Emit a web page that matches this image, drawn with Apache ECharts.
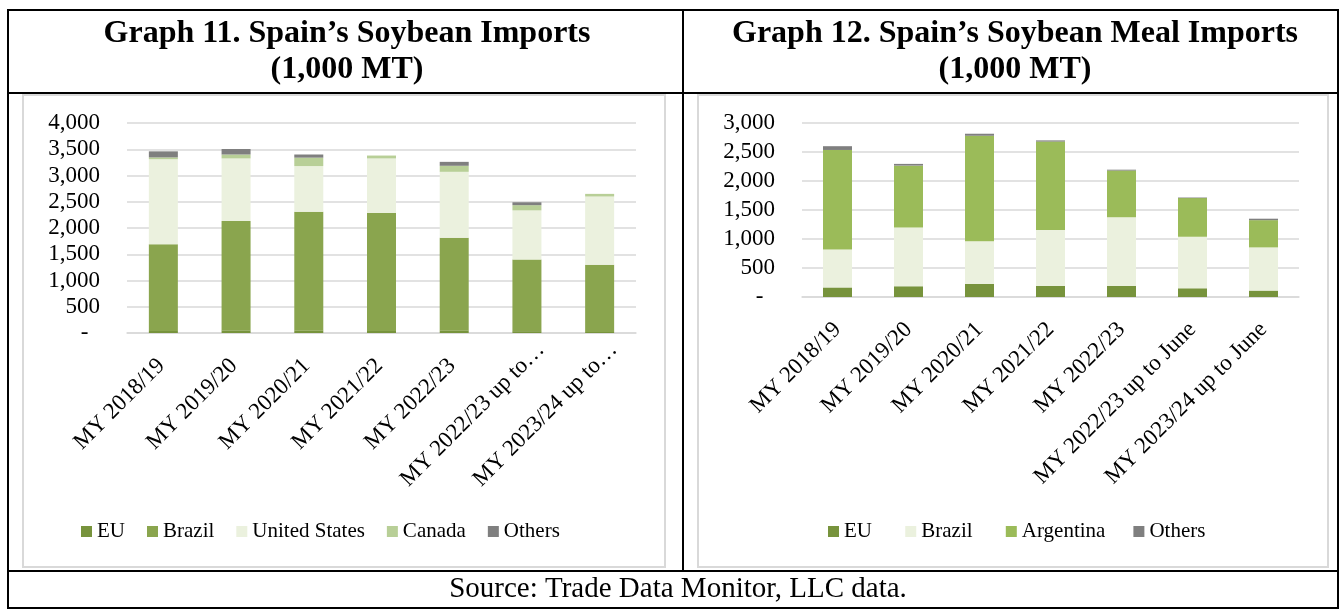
<!DOCTYPE html>
<html>
<head>
<meta charset="utf-8">
<script src="https://cdn.jsdelivr.net/npm/echarts@6/dist/echarts.min.js"></script>
<style>
  html, body { margin: 0; padding: 0; background: #fff; }
  #chart { width: 1339px; height: 609px; }
</style>
</head>
<body>
<div id="chart"></div>
<script>
// categories (marketing years)
var categories = ['MY 2018/19', 'MY 2019/20', 'MY 2020/21', 'MY 2021/22', 'MY 2022/23',
                  'MY 2022/23 up to June', 'MY 2023/24 up to June'];

// Graph 11 - soybean imports, 1,000 MT
var beanEU = [40, 50, 45, 40, 45, 35, 20];
var beanBrazil = [1650, 2085, 2265, 2245, 1770, 1365, 1280];
var beanUS = [1620, 1190, 870, 1040, 1255, 935, 1300];
var beanCanada = [35, 75, 160, 55, 115, 100, 50];
var beanOthers = [115, 105, 60, 0, 75, 55, 0];

// Graph 12 - soybean meal imports, 1,000 MT
var mealEU = [165, 185, 225, 190, 190, 150, 110];
var mealBrazil = [655, 1015, 735, 965, 1185, 890, 745];
var mealArgentina = [1715, 1065, 1820, 1525, 805, 665, 470];
var mealOthers = [65, 30, 35, 20, 15, 10, 25];

var serif = '"Liberation Serif", "Times New Roman", serif';
var gridColor = '#d9d9d9';

function fmtNum(v) {
    if (v === 0) return '-  ';
    return v.toLocaleString('en-US');
}

// left chart: excel cuts the long labels and lets the "…" hang past the tick,
// so the uncut labels get a blank tail the size of the ellipsis
var leftLabel = {
    rotate: 45,
    margin: -1,
    interval: 0,
    verticalAlign: 'top',
    lineHeight: 40,
    color: '#000',
    fontFamily: serif,
    fontSize: 23,
    formatter: function (s) {
        if (s.length > 17) return '{q|' + s.slice(0, 16) + '…}';
        return '{p|' + s + '}';
    },
    rich: {
        p: { fontFamily: serif, fontSize: 23, lineHeight: 40, color: '#000', padding: [0, 23, 0, 0] },
        q: { fontFamily: serif, fontSize: 23, lineHeight: 40, color: '#000' }
    }
};

var rightLabel = {
    rotate: 45,
    margin: 29,
    interval: 0,
    color: '#000',
    fontFamily: serif,
    fontSize: 23
};

function xAxisFor(idx, label) {
    return {
        type: 'category',
        gridIndex: idx,
        data: categories,
        axisTick: { show: false },
        axisLine: { lineStyle: { color: gridColor, width: 1.5 } },
        axisLabel: label
    };
}

function yAxisFor(idx, max) {
    return {
        type: 'value',
        gridIndex: idx,
        min: 0,
        max: max,
        interval: 500,
        axisLine: { show: false },
        axisTick: { show: false },
        splitLine: { lineStyle: { color: gridColor, width: 1.5 } },
        axisLabel: {
            margin: 27,
            color: '#000',
            fontFamily: serif,
            fontSize: 23,
            formatter: fmtNum
        }
    };
}

function bar(name, data, color, idx) {
    return {
        name: name,
        type: 'bar',
        stack: 's' + idx,
        xAxisIndex: idx,
        yAxisIndex: idx,
        barWidth: 29,
        data: data,
        itemStyle: { color: color },
        emphasis: { disabled: true }
    };
}

var legendText = { fontFamily: serif, fontSize: 21, color: '#000' };

var chart = echarts.init(document.getElementById('chart'));
chart.setOption({
    animation: false,
    backgroundColor: '#fff',
    grid: [
        { left: 127, top: 123, width: 509, height: 210 },
        { left: 802, top: 123, width: 497, height: 174 }
    ],
    xAxis: [xAxisFor(0, leftLabel), xAxisFor(1, rightLabel)],
    yAxis: [yAxisFor(0, 4000), yAxisFor(1, 3000)],
    legend: [
        {
            left: 81, top: 521, padding: 0,
            itemWidth: 11, itemHeight: 11, itemGap: 22,
            icon: 'rect',
            textStyle: legendText,
            data: ['EU', 'Brazil', 'United States', 'Canada', 'Others']
        },
        {
            left: 828, top: 521, padding: 0,
            itemWidth: 11, itemHeight: 11, itemGap: 28,
            icon: 'rect',
            textStyle: legendText,
            data: ['EU ', 'Brazil ', 'Argentina', 'Others ']
        }
    ],
    series: [
        bar('EU', beanEU, '#77933c', 0),
        bar('Brazil', beanBrazil, '#8aa54e', 0),
        bar('United States', beanUS, '#ebf1de', 0),
        bar('Canada', beanCanada, '#b8cf97', 0),
        bar('Others', beanOthers, '#7f7f7f', 0),
        bar('EU ', mealEU, '#77933c', 1),
        bar('Brazil ', mealBrazil, '#ebf1de', 1),
        bar('Argentina', mealArgentina, '#9bbb59', 1),
        bar('Others ', mealOthers, '#7f7f7f', 1)
    ],
    graphic: [
        // chart area frames
        { type: 'rect', shape: { x: 23, y: 95, width: 642, height: 472 },
          style: { fill: 'none', stroke: '#d9d9d9', lineWidth: 2 } },
        { type: 'rect', shape: { x: 698, y: 95, width: 630, height: 472 },
          style: { fill: 'none', stroke: '#d9d9d9', lineWidth: 2 } },
        // table borders
        { type: 'rect', shape: { x: 8, y: 10, width: 1330, height: 598 },
          style: { fill: 'none', stroke: '#000', lineWidth: 2 } },
        { type: 'line', shape: { x1: 8, y1: 93, x2: 1338, y2: 93 },
          style: { stroke: '#000', lineWidth: 2 } },
        { type: 'line', shape: { x1: 8, y1: 571, x2: 1338, y2: 571 },
          style: { stroke: '#000', lineWidth: 2 } },
        { type: 'line', shape: { x1: 683, y1: 10, x2: 683, y2: 571 },
          style: { stroke: '#000', lineWidth: 2 } },
        // titles
        { type: 'text', x: 347, y: 16,
          style: { text: 'Graph 11. Spain’s Soybean Imports\n(1,000 MT)', textAlign: 'center',
                   font: 'bold 32px ' + serif, lineHeight: 36, fill: '#000' } },
        { type: 'text', x: 1015, y: 16,
          style: { text: 'Graph 12. Spain’s Soybean Meal Imports\n(1,000 MT)', textAlign: 'center',
                   font: 'bold 32px ' + serif, lineHeight: 36, fill: '#000' } },
        { type: 'text', x: 678, y: 575,
          style: { text: 'Source: Trade Data Monitor, LLC data.', textAlign: 'center',
                   font: '29px ' + serif, fill: '#000' } }
    ]
});
</script>
</body>
</html>
